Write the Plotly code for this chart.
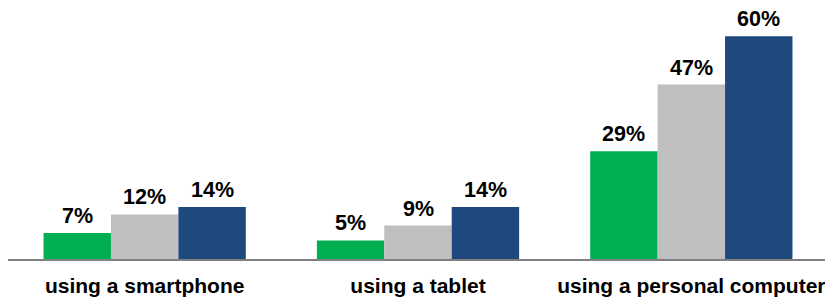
import plotly.graph_objects as go

categories = ["using a smartphone", "using a tablet", "using a personal computer"]
series_names = ["Series 1", "Series 2", "Series 3"]
series_values = [
    [7, 5, 29],
    [12, 9, 47],
    [14, 14, 60],
]
colors = ["#00B050", "#BFBFBF", "#1F497D"]

bargap = 0.26
n = len(series_values)
bar_w = (1 - bargap) / n

fig = go.Figure()
annotations = []
for i, (name, vals, col) in enumerate(zip(series_names, series_values, colors)):
    fig.add_trace(go.Bar(
        x=categories, y=vals, name=name, marker=dict(color=col, line=dict(width=0)),
        hoverinfo="skip",
    ))
    offset = (i - (n - 1) / 2) * bar_w
    for j, v in enumerate(vals):
        annotations.append(dict(
            x=j + offset, y=v, xref="x", yref="y", text=f"<b>{v}%</b>",
            showarrow=False, yanchor="bottom", yshift=3,
            font=dict(family="Liberation Sans, Arial", size=21.5, color="#000000"),
        ))

# page body has a default 8px margin; figure sized to fill the 833x301 window
fig.update_layout(
    barmode="group", bargap=bargap, bargroupgap=0,
    width=825, height=293,
    margin=dict(l=0, r=5, t=6, b=42, autoexpand=False),
    plot_bgcolor="white", paper_bgcolor="white",
    showlegend=False,
    annotations=annotations,
    font=dict(family="Liberation Sans, Arial", color="#000000"),
)
fig.update_xaxes(
    showline=True, linecolor="#808080", linewidth=2, ticks="", automargin=False,
    ticklabelstandoff=7,
    tickfont=dict(family="Liberation Sans, Arial", size=21, color="#000000", weight="bold"),
)
fig.update_yaxes(range=[0, 66], visible=False, showgrid=False, automargin=False)

fig.write_html("out.html")
